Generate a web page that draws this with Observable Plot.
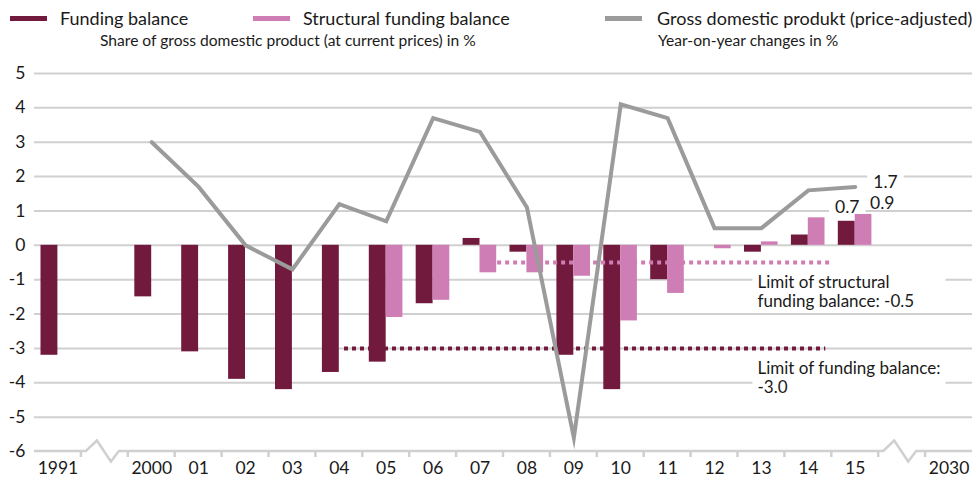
<!DOCTYPE html>
<html><head><meta charset="utf-8">
<script src="https://cdn.jsdelivr.net/npm/d3@7"></script>
<script src="https://cdn.jsdelivr.net/npm/@observablehq/plot@0.6"></script>
<style>
body{margin:0;background:#fff;font-family:Lato, sans-serif;}
#wrap{position:relative;width:979px;height:479px;overflow:hidden;}
#legend{position:relative;height:55px;}
.sw{position:absolute;height:5px;width:37px;top:16px;}
.lt{position:absolute;top:6px;font-size:18px;color:#1a1a1a;white-space:nowrap;line-height:24px}
.st{position:absolute;top:30px;font-size:15.6px;color:#1a1a1a;white-space:nowrap;line-height:20px}
</style></head><body>
<div id="wrap">
<div id="legend">
  <div class="sw" style="left:10px;background:#721a3e"></div>
  <div class="lt" style="left:60px">Funding balance</div>
  <div class="sw" style="left:253px;background:#cf7db5"></div>
  <div class="lt" style="left:303px">Structural funding balance</div>
  <div class="st" style="left:100px">Share of gross domestic product (at current prices) in %</div>
  <div class="sw" style="left:605px;background:#9b9b9b"></div>
  <div class="lt" style="left:657px">Gross domestic produkt (price-adjusted)</div>
  <div class="st" style="left:658px">Year-on-year changes in %</div>
</div>
<div id="chart"></div>
</div>
<script>
// x categories (two empty slots stand for the axis breaks)
const categories = ["1991","gap1","2000","2001","2002","2003","2004","2005","2006","2007","2008","2009","2010","2011","2012","2013","2014","2015","gap2","2030"];
const tickLabels = ["1991","","2000","01","02","03","04","05","06","07","08","09","10","11","12","13","14","15","","2030"];
const yTicks = [5,4,3,2,1,0,-1,-2,-3,-4,-5,-6];

// Funding balance (share of GDP, %)
const fundingYears = ["1991","2000","2001","2002","2003","2004","2005","2006","2007","2008","2009","2010","2011","2012","2013","2014","2015"];
const fundingValues = [-3.2,-1.5,-3.1,-3.9,-4.2,-3.7,-3.4,-1.7,0.2,-0.2,-3.2,-4.2,-1.0,0.0,-0.2,0.3,0.7];

// Structural funding balance (share of GDP, %)
const structuralYears = ["2005","2006","2007","2008","2009","2010","2011","2012","2013","2014","2015"];
const structuralValues = [-2.1,-1.6,-0.8,-0.8,-0.9,-2.2,-1.4,-0.1,0.1,0.8,0.9];

// GDP price-adjusted, year-on-year change %
const gdpYears = ["2000","2001","2002","2003","2004","2005","2006","2007","2008","2009","2010","2011","2012","2013","2014","2015"];
const gdpValues = [3.0,1.7,0.0,-0.7,1.2,0.7,3.7,3.3,1.1,-5.6,4.1,3.7,0.5,0.5,1.6,1.7];

// Limits
const limitNames = ["funding","structural"];
const limitValues = [-3.0,-0.5];
const limitFrom = ["2004","2007"];
const limitTo = ["2014","2014"];
const limitLabelAt = ["2013","2013"];
const limitTexts = ["Limit of funding balance:\n-3.0","Limit of structural\nfunding balance: -0.5"];

const maroon = "#721a3e", pink = "#cf7db5", grey = "#9b9b9b", gridc = "#d0d0d0";

const funding = fundingYears.map((year, i) => ({year, value: fundingValues[i]}));
const structural = structuralYears.map((year, i) => ({year, value: structuralValues[i]}));
const gdp = gdpYears.map((year, i) => ({year, value: gdpValues[i]}));
const limits = limitNames.map((name, i) => ({name, value: limitValues[i], from: limitFrom[i], to: limitTo[i], at: limitLabelAt[i], text: limitTexts[i]}));
const lastF = funding[funding.length-1], lastS = structural[structural.length-1], lastG = gdp[gdp.length-1];

const chart = Plot.plot({
  width: 979, height: 424,
  marginTop: 18, marginBottom: 28, marginLeft: 34, marginRight: 7,
  style: {fontFamily: "Lato, sans-serif", fontSize: "17.5px", color: "#1a1a1a", background: "white", overflow: "visible"},
  x: {type: "band", domain: categories, padding: 0, round: false, tickSize: 0, tickPadding: 10, tickFormat: d => tickLabels[categories.indexOf(d)], label: null},
  y: {domain: [-6, 5], ticks: yTicks, tickSize: 0, tickPadding: 9, label: null, tickFormat: d => String(d)},
  marks: [
    Plot.ruleY(yTicks.filter(v => v > -6), {stroke: gridc, strokeWidth: 2}),
    Plot.barY(funding, {x: "year", y: "value", fill: maroon, insetLeft: 6.5, insetRight: 23.5}),
    Plot.barY(structural, {x: "year", y: "value", fill: pink, insetLeft: 23.4, insetRight: 6.8}),
    Plot.ruleY(limits.filter(d => d.name === "funding"), {y: "value", x1: "from", x2: "to", stroke: maroon, strokeWidth: 4, strokeDasharray: "4 4", insetLeft: 28.6, insetRight: 6}),
    Plot.ruleY(limits.filter(d => d.name === "structural"), {y: "value", x1: "from", x2: "to", stroke: pink, strokeWidth: 4, strokeDasharray: "4 4", insetLeft: 41, insetRight: 2}),
    Plot.line(gdp, {x: "year", y: "value", stroke: grey, strokeWidth: 4, strokeLinejoin: "miter", strokeMiterlimit: 20}),
    Plot.text(limits, {x: "at", y: "value", text: "text", textAnchor: "start", lineAnchor: "top", dx: -4, dy: 12, lineHeight: 1.12, fontSize: 17, fill: "#1a1a1a"}),
    Plot.text([lastG], {x: "year", y: "value", text: d => d.value.toFixed(1), textAnchor: "start", dx: 18, dy: -5, fill: "#1a1a1a"}),
    Plot.text([lastF], {x: "year", y: "value", text: d => d.value.toFixed(1), dx: -8, dy: -14, fill: "#1a1a1a"}),
    Plot.text([lastS], {x: "year", y: "value", text: d => d.value.toFixed(1), dx: 27, dy: -11, fill: "#1a1a1a"})
  ]
});
document.getElementById("chart").appendChild(chart);

// Axis baseline with breaks and boundary ticks, using the plot's own scales
const sx = chart.scale("x"), sy = chart.scale("y");
const xb = d3.scaleBand().domain(sx.domain).range(sx.range).padding(0);
const yl = d3.scaleLinear().domain(sy.domain).range(sy.range);
const svg = d3.select(chart);
const y0 = yl(-6);
const g1 = xb("gap1"), g2 = xb("gap2");
const zig = g => [[g+5,y0],[g+16,y0-10.5],[g+30,y0+10.5],[g+38,y0]];
const pts = [[sx.range[0],y0], ...zig(g1), ...zig(g2), [sx.range[1],y0]];
const ax = svg.insert("g", ":first-child").attr("class","axisline");
ax.append("path").attr("d", d3.line()(pts)).attr("fill","none").attr("stroke",gridc).attr("stroke-width",2.5).attr("stroke-linejoin","miter");
categories.slice(1).forEach(c => {
  const x = xb(c);
  ax.append("line").attr("x1",x).attr("x2",x).attr("y1",y0).attr("y2",y0+6).attr("stroke",gridc).attr("stroke-width",2.5);
});
// white boxes behind labels
const texts = svg.selectAll('g[aria-label="text"] text').nodes();
let maxRight = 0;
texts.forEach(t => { if (t.textContent.includes("Limit")) { const b = t.getBBox(); maxRight = Math.max(maxRight, b.x + b.width); } });
texts.forEach(t => {
  const b = t.getBBox();
  const isA = t.textContent.includes("Limit");
  const padL = isA ? 5 : 6, padT = isA ? 2 : 0, padB = isA ? 2 : -3;
  const right = isA ? maxRight + 5 : b.x + b.width + 6;
  const tr = t.getAttribute("transform");
  const r = document.createElementNS("http://www.w3.org/2000/svg","rect");
  r.setAttribute("x", b.x - padL); r.setAttribute("y", b.y - padT);
  r.setAttribute("width", right - (b.x - padL)); r.setAttribute("height", b.height + padT + padB);
  r.setAttribute("fill","white");
  if (tr) r.setAttribute("transform", tr);
  t.parentNode.insertBefore(r, t);
});
</script>
</body></html>
